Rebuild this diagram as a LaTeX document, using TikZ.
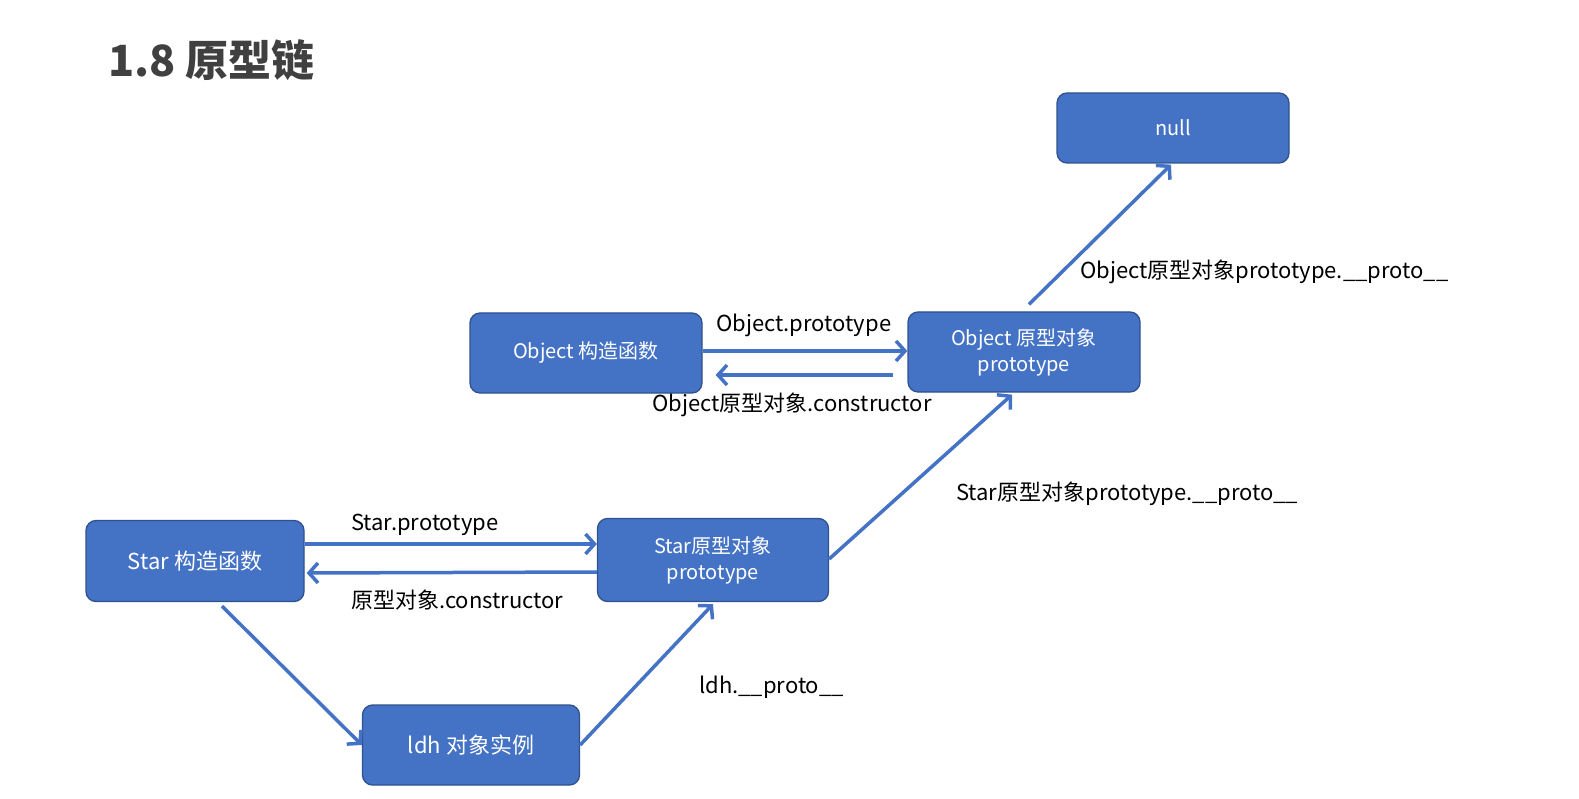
\documentclass[tikz,border=0pt]{standalone}
\usepackage{fontspec}
\setmainfont{Noto Sans CJK SC}
\usepackage{xcolor}
\usetikzlibrary{arrows.meta,positioning}
\definecolor{boxblue}{HTML}{4472C4}
\definecolor{boxedge}{HTML}{2F528F}
\definecolor{titlegray}{HTML}{404040}

\begin{document}
\begin{tikzpicture}[x=1pt,y=-1pt,
          obj/.style={draw=boxedge,line width=1.3pt,fill=boxblue,rounded corners=10pt,
            minimum width=232pt,minimum height=80pt,inner sep=0pt,align=center,
            text=white,font=\fontsize{20}{26}\selectfont},
          bigobj/.style={obj,minimum width=218pt,minimum height=81pt,font=\fontsize{22}{26}\selectfont},
          arr/.style={draw=boxblue,line width=3.5pt,-{Straight Barb[length=9pt,width=20pt]}},
          lbl/.style={anchor=west,inner sep=0pt,font=\fontsize{22}{26}\selectfont}]
        \useasboundingbox (0,0) rectangle (1579,799);
        \node[anchor=west,inner sep=0pt,text=titlegray,font=\fontsize{43}{48}\selectfont\bfseries]
          (title) at (108,60) {1.8 原型链};
        % boxes
        \node[obj,minimum height=70pt] (null) at (1173,128) {null};
        \node[obj] (objctor)   at (586,353)  {Object 构造函数};
        \node[obj] (objproto)  at (1024,352) {\strut Object 原型对象\\prototype};
        \node[bigobj] (starctor) at (195,561) {Star 构造函数};
        \node[obj,minimum width=231pt,minimum height=83pt] (starproto) at (713,560) {\strut Star原型对象\\prototype};
        \node[bigobj,minimum width=217pt,minimum height=80pt] (ldh) at (471,745) {ldh 对象实例};
        % connectors
        \draw[arr] ([yshift=2pt]objctor.east) -- ([yshift=1pt]objproto.west);
        \draw[arr] ([xshift=-14pt,yshift=-23pt]objproto.west) -- ([xshift=13pt,yshift=-22pt]objctor.east);
        \draw[arr] ([yshift=17pt]starctor.east) -- ([yshift=16pt]starproto.west);
        \draw[arr] ([yshift=-12pt]starproto.west) -- ([xshift=2pt,yshift=-12pt]starctor.east);
        \draw[arr] ([xshift=27pt,yshift=-4pt]starctor.south) -- (ldh.west);
        \draw[arr] (ldh.east) -- ([yshift=-2pt]starproto.south);
        \draw[arr] ([yshift=1pt]starproto.east) -- ([xshift=-12pt,yshift=-2pt]objproto.south);
        \draw[arr] ([xshift=5pt,yshift=7pt]objproto.north) -- ([xshift=-2pt,yshift=-1pt]null.south);
        % labels
        \node[lbl] (lobjproto) at (716,325) {Object.prototype};
        \node[lbl] (lobjcons)  at (652,405) {Object原型对象.constructor};
        \node[lbl] (lnull)     at (1080,272) {Object原型对象prototype.\_\_proto\_\_};
        \node[lbl] (lstarup)   at (956,494) {Star原型对象prototype.\_\_proto\_\_};
        \node[lbl] (lstarproto) at (351,525) {Star.prototype};
        \node[lbl] (lstarcons) at (351,600) {原型对象.constructor};
        \node[lbl] (lldh)      at (699,687) {ldh.\_\_proto\_\_};
      \end{tikzpicture}
\end{document}
